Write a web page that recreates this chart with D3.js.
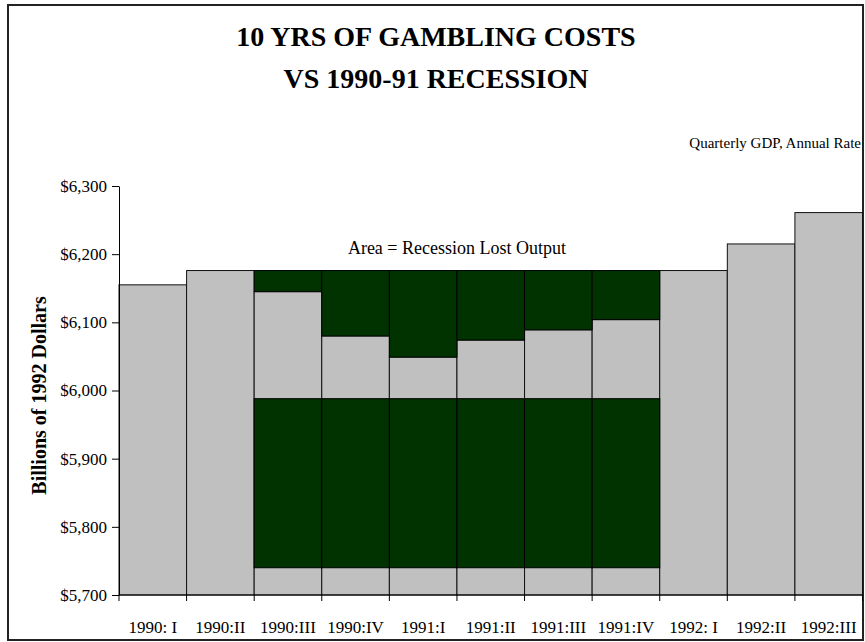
<!DOCTYPE html>
<meta charset="utf-8">
<script src="https://d3js.org/d3.v7.min.js"></script>
<style>
  body { margin: 0; background: #fff; }
  svg text { font-family: "Liberation Serif", "Times New Roman", serif; fill: #000; }
</style>
<div id="chart"></div>
<script>

// quarters on the x axis
var quarters = ["1990: I", "1990:II", "1990:III", "1990:IV", "1991:I", "1991:II",
                "1991:III", "1991:IV", "1992: I", "1992:II", "1992:III"];

// quarterly GDP, billions of 1992 dollars (annual rate)
var gdp = [6155, 6176, 6145, 6080, 6049, 6074, 6089, 6104, 6176, 6215, 6261];

// quarters in the recession, and the pre-recession peak they are measured against
var recessionQuarters = ["1990:III", "1990:IV", "1991:I", "1991:II", "1991:III", "1991:IV"];
var peakGdp = 6176;

// gambling costs block (bottom / top of the band)
var gamblingBand = [5740, 5988];

var yTicks = [5700, 5800, 5900, 6000, 6100, 6200, 6300];

var W = 865, H = 642;
var margin = {top: 186, right: 2.5, bottom: 47, left: 119};
var serif = "'Liberation Serif', 'Times New Roman', serif";

var svg = d3.select("#chart").append("svg")
  .attr("width", W)
  .attr("height", H);

// outer frame
svg.append("rect")
  .attr("x", 8).attr("y", 5)
  .attr("width", 855).attr("height", 635)
  .attr("fill", "#fff")
  .attr("stroke", "#222")
  .attr("stroke-width", 2);

var x = d3.scaleBand()
  .domain(quarters)
  .range([margin.left, W - margin.right])
  .padding(0);

var y = d3.scaleLinear()
  .domain([5700, 6300])
  .range([H - margin.bottom, margin.top]);

// titles
svg.append("text")
  .attr("x", 436).attr("y", 46)
  .attr("text-anchor", "middle")
  .style("font-family", serif)
  .style("font-size", "28px").style("font-weight", "bold")
  .text("10 YRS OF GAMBLING COSTS");
svg.append("text")
  .attr("x", 436).attr("y", 88)
  .attr("text-anchor", "middle")
  .style("font-family", serif)
  .style("font-size", "28px").style("font-weight", "bold")
  .text("VS 1990-91 RECESSION");

svg.append("text")
  .attr("x", 861).attr("y", 148)
  .attr("text-anchor", "end")
  .style("font-family", serif)
  .style("font-size", "15px")
  .text("Quarterly GDP, Annual Rate");

// bars
var bars = svg.append("g");

// gray GDP bars
bars.selectAll(".gdp")
  .data(quarters)
  .enter()
  .append("rect")
    .attr("class", "gdp")
    .attr("x", function(d) { return x(d); })
    .attr("width", x.bandwidth())
    .attr("y", function(d, i) { return y(gdp[i]); })
    .attr("height", function(d, i) { return y(5700) - y(gdp[i]); })
    .attr("fill", "#c0c0c0")
    .attr("stroke", "#111")
    .attr("stroke-width", 1);

// lost output above the gray bars during the recession
bars.selectAll(".lost")
  .data(recessionQuarters)
  .enter()
  .append("rect")
    .attr("class", "lost")
    .attr("x", function(d) { return x(d); })
    .attr("width", x.bandwidth())
    .attr("y", y(peakGdp))
    .attr("height", function(d) { return y(gdp[quarters.indexOf(d)]) - y(peakGdp); })
    .attr("fill", "#003300")
    .attr("stroke", "#000")
    .attr("stroke-width", 1);

// gambling cost band
bars.selectAll(".gamble")
  .data(recessionQuarters)
  .enter()
  .append("rect")
    .attr("class", "gamble")
    .attr("x", function(d) { return x(d); })
    .attr("width", x.bandwidth())
    .attr("y", y(gamblingBand[1]))
    .attr("height", y(gamblingBand[0]) - y(gamblingBand[1]))
    .attr("fill", "#003300")
    .attr("stroke", "#000")
    .attr("stroke-width", 1);

// label over the recession area
svg.append("text")
  .attr("x", (x(recessionQuarters[0]) + x(recessionQuarters[5]) + x.bandwidth()) / 2)
  .attr("y", y(peakGdp) - 17)
  .attr("text-anchor", "middle")
  .style("font-family", serif)
  .style("font-size", "18px")
  .text("Area = Recession Lost Output");

// y axis
var yAxis = svg.append("g")
  .attr("transform", "translate(" + margin.left + ",0)")
  .call(d3.axisLeft(y)
    .tickValues(yTicks)
    .tickSizeInner(7)
    .tickSizeOuter(0)
    .tickPadding(5)
    .tickFormat(function(d) { return "$" + d3.format(",")(d); }));
yAxis.selectAll("text")
  .style("font-family", serif)
  .style("font-size", "17px");
yAxis.selectAll("path, line").attr("stroke", "#000");

// x axis: line, boundary ticks, centred labels
var xAxis = svg.append("g")
  .attr("transform", "translate(0," + y(5700) + ")");
xAxis.append("line")
  .attr("x1", margin.left).attr("x2", W - margin.right)
  .attr("stroke", "#000");
xAxis.selectAll(".tick-b")
  .data(quarters.concat(["end"]))
  .enter()
  .append("line")
    .attr("x1", function(d, i) { return margin.left + i * x.step(); })
    .attr("x2", function(d, i) { return margin.left + i * x.step(); })
    .attr("y1", 0).attr("y2", 6)
    .attr("stroke", "#000");
xAxis.selectAll(".lbl")
  .data(quarters)
  .enter()
  .append("text")
    .attr("x", function(d) { return x(d) + x.bandwidth() / 2; })
    .attr("y", 38)
    .attr("text-anchor", "middle")
    .style("font-family", serif)
    .style("font-size", "17px")
    .text(function(d) { return d; });

// y axis title
svg.append("text")
  .attr("transform", "translate(46," + (y(6000) + 5) + ") rotate(-90)")
  .attr("text-anchor", "middle")
  .style("font-family", serif)
  .style("font-size", "20px")
  .style("font-weight", "bold")
  .text("Billions of 1992 Dollars");

</script>
